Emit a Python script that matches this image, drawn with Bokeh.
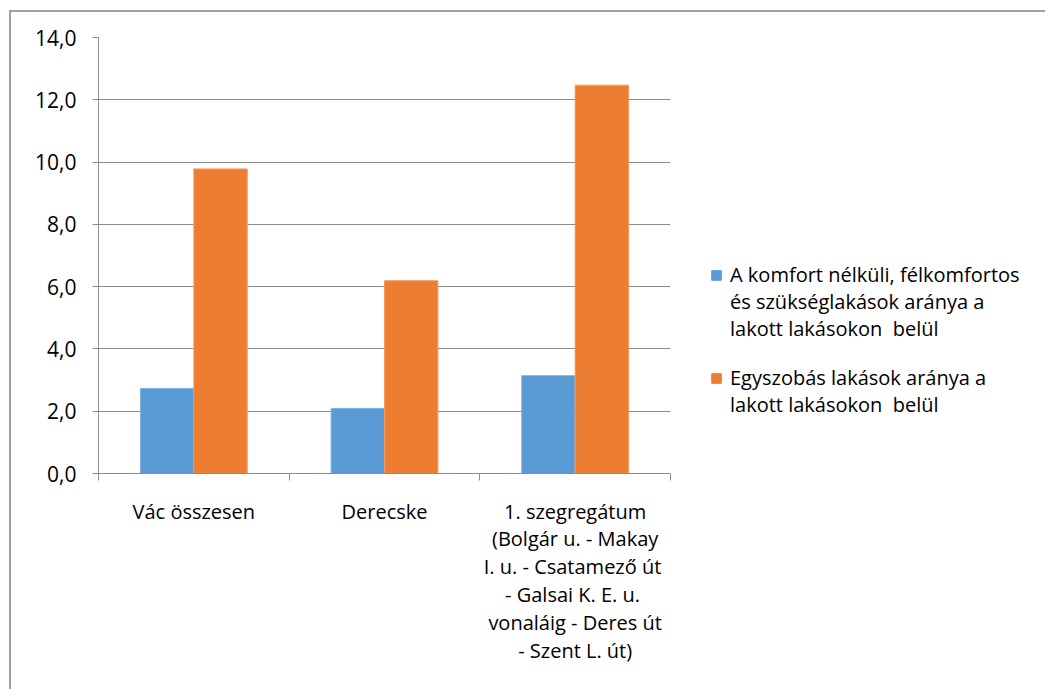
from bokeh.plotting import figure
from bokeh.models import Range1d, FixedTicker, Legend, LegendItem, ColumnDataSource, Spacer
from bokeh.layouts import row, column
from bokeh.transform import dodge
from bokeh.embed import file_html
from bokeh.resources import INLINE

categories = [
    "Vác összesen",
    "Derecske",
    "1. szegregátum\n(Bolgár u. - Makay\nI. u. - Csatamező  út\n- Galsai  K. E. u.\nvonaláig - Deres út\n- Szent L. út)",
]
komfort_nelkuli = [2.73, 2.09, 3.14]
egyszobas = [9.78, 6.19, 12.47]
series_names = [
    "A komfort nélküli, félkomfortos\nés szükséglakások aránya a\nlakott lakásokon  belül",
    "Egyszobás lakások aránya a\nlakott lakásokon  belül",
]
y_ticks = [0, 2, 4, 6, 8, 10, 12, 14]
y_tick_labels = ["0,0", "2,0", "4,0", "6,0", "8,0", "10,0", "12,0", "14,0"]

FONT = "Open Sans"
FS = "20px"
BLUE = "#5B9BD5"
ORANGE = "#ED7D31"
GRID = "#8c8c8c"
FRAME = "#a0a0a0"

centers = [i + 0.5 for i in range(len(categories))]
bounds = [float(i) for i in range(len(categories) + 1)]
src = ColumnDataSource(dict(x=centers, a=komfort_nelkuli, b=egyszobas))

CH_W, CH_H = 680, 664
p = figure(width=CH_W, height=CH_H, output_backend="svg", toolbar_location=None,
           x_range=Range1d(0, len(categories)), y_range=Range1d(0, 14),
           min_border_left=87, min_border_top=25, min_border_bottom=203,
           min_border_right=21)
p.outline_line_color = None

p.vbar(x=dodge("x", -0.14), top="a", width=0.28, source=src,
       fill_color=BLUE, line_color="#7fb2e0", line_width=1)
p.vbar(x=dodge("x", 0.14), top="b", width=0.28, source=src,
       fill_color=ORANGE, line_color="#f29a60", line_width=1)

# y axis
yax = p.yaxis[0]
yax.ticker = FixedTicker(ticks=y_ticks)
yax.major_label_overrides = {t: l for t, l in zip(y_ticks, y_tick_labels)}
yax.major_tick_out = 6
yax.major_tick_in = 0
yax.minor_tick_out = 0
yax.minor_tick_in = 0
yax.axis_line_color = GRID
yax.major_tick_line_color = GRID
yax.major_label_standoff = 16
yax.major_label_text_font = FONT
yax.major_label_text_font_size = "21px"
yax.major_label_text_color = "black"

p.ygrid.ticker = FixedTicker(ticks=y_ticks)
p.ygrid.grid_line_color = GRID
p.xgrid.visible = False

# x axis
xax = p.xaxis[0]
xax.ticker = FixedTicker(ticks=centers, minor_ticks=bounds)
xax.major_label_overrides = {c: l for c, l in zip(centers, categories)}
xax.major_tick_out = 0
xax.major_tick_in = 0
xax.minor_tick_out = 7
xax.minor_tick_in = 0
xax.minor_tick_line_color = GRID
xax.axis_line_color = GRID
xax.major_label_standoff = 17
xax.major_label_text_font = FONT
xax.major_label_text_font_size = FS
xax.major_label_text_color = "black"
xax.major_label_text_line_height = 1.03

# legend panel (separate figure to the right of the plot; frames are aligned)
LG_W = 1030 - 2 - CH_W
lf = figure(width=LG_W, height=CH_H, output_backend="svg", toolbar_location=None,
            min_border=0, x_range=Range1d(-20, -19), y_range=Range1d(0, 14))
lf.axis.visible = False
lf.grid.visible = False
lf.outline_line_color = None
empty = ColumnDataSource(dict(x=[], top=[]))
lr1 = lf.vbar(x="x", top="a", width=0.28, source=src, fill_color=BLUE, line_color=BLUE)
lr2 = lf.vbar(x="x", top="b", width=0.28, source=src, fill_color=ORANGE, line_color=ORANGE)
lblank = lf.vbar(x="x", top="top", width=1, source=empty, fill_alpha=0, line_alpha=0)


def make_legend(name, renderer, loc):
    lines = name.split("\n")
    items = [LegendItem(label=lines[0], renderers=[renderer])]
    items += [LegendItem(label=ln, renderers=[lblank]) for ln in lines[1:]]
    lg = Legend(items=items, location=loc)
    lg.glyph_width = 12
    lg.glyph_height = 12
    lg.label_height = 27
    lg.label_standoff = 8
    lg.spacing = 0
    lg.padding = 0
    lg.margin = 0
    lg.border_line_color = None
    lg.background_fill_alpha = 0
    lg.label_text_font = FONT
    lg.label_text_font_size = FS
    lg.label_text_color = "black"
    lg.label_text_line_height = 1.0
    return lg


lf.add_layout(make_legend(series_names[0], lr1, (19, 131)))
lf.add_layout(make_legend(series_names[1], lr2, (19, 55)))

top_line = Spacer(width=1036, height=2, margin=0,
                  styles={"background-color": FRAME})
left_line = Spacer(width=2, height=677, margin=0,
                   styles={"background-color": FRAME})
layout = column(top_line, row(left_line, p, lf), margin=(10, 0, 0, 9))

open("out.html", "w").write(file_html(layout, INLINE))
